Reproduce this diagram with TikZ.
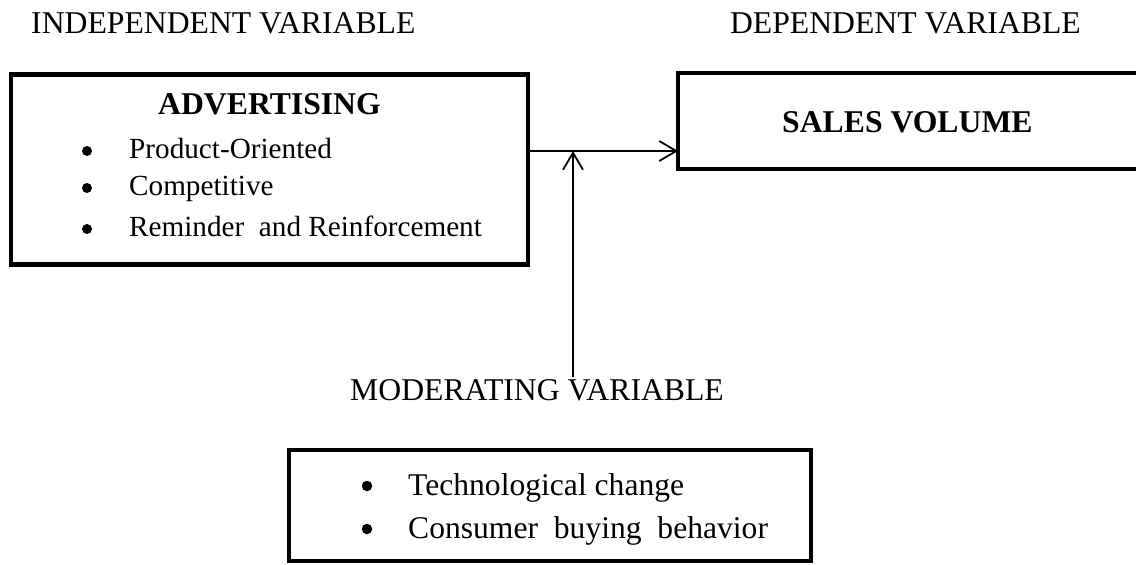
\documentclass[tikz,border=0pt]{standalone}
\usepackage{fontspec}
\setmainfont{Liberation Serif}
\usetikzlibrary{arrows.meta}
\tikzset{
  box/.style={draw, line width=4.5pt, inner sep=0pt, outer sep=0pt},
  head/.style={font=\fontsize{31.7}{38}\selectfont, inner sep=0pt},
  title/.style={font=\fontsize{31.7}{38}\selectfont\bfseries, inner sep=0pt, anchor=base},
  itemA/.style={font=\fontsize{29.2}{35}\selectfont, inner sep=0pt, anchor=base west},
  itemB/.style={font=\fontsize{31.6}{38}\selectfont, inner sep=0pt, anchor=base west},
  bulA/.style={circle, fill=black, inner sep=0pt, minimum size=10pt},
  bulB/.style={circle, fill=black, inner sep=0pt, minimum size=10.5pt},
  conn/.style={line width=1.8pt, -{Straight Barb[length=17pt,width=20pt]}},
}
\begin{document}
\begin{tikzpicture}[x=1pt,y=-1pt]
\clip (0,0) rectangle (1136,565);
\fill[white] (0,0) rectangle (1136,565);

% headings
\node[head, anchor=base west] (hind) at (31,33) {INDEPENDENT VARIABLE};
\node[head, anchor=base east] (hdep) at (1081,33) {DEPENDENT VARIABLE};
\node[head, anchor=base west] (hmod) at (350,400) {MODERATING VARIABLE};

% boxes
\node[box, minimum width=517pt, minimum height=190pt] (adv) at (269.5,169.5) {};
\node[box, minimum width=472pt, minimum height=96pt] (sales) at (914,121) {};
\node[box, minimum width=522pt, minimum height=111pt] (mod) at (550,505.5) {};

% advertising box content
\node[title] (tadv) at (269.5,114) {ADVERTISING};
\node[bulA] (ba1) at (87,151) {};
\node[itemA] (ia1) at (129,158) {Product-Oriented};
\node[bulA] (ba2) at (87,188) {};
\node[itemA] (ia2) at (129,195) {Competitive};
\node[bulA] (ba3) at (87,229) {};
\node[itemA] (ia3) at (129,236) {Reminder\ \ and Reinforcement};

% sales box content
\node[title, anchor=base west] (tsales) at (782,132) {SALES VOLUME};

% moderating box content
\node[bulB] (bb1) at (367,486) {};
\node[itemB] (ib1) at (408,495) {Technological change};
\node[bulB] (bb2) at (367,529) {};
\node[itemB] (ib2) at (408,538) {Consumer\ \ buying\ \ behavior};

% connectors
\coordinate (j) at (528,151);
\coordinate (m) at (573,377);
\draw[conn] (adv.east |- j) -- (sales.west |- j);
\draw[conn] (m) -- (m |- j);
\end{tikzpicture}
\end{document}
